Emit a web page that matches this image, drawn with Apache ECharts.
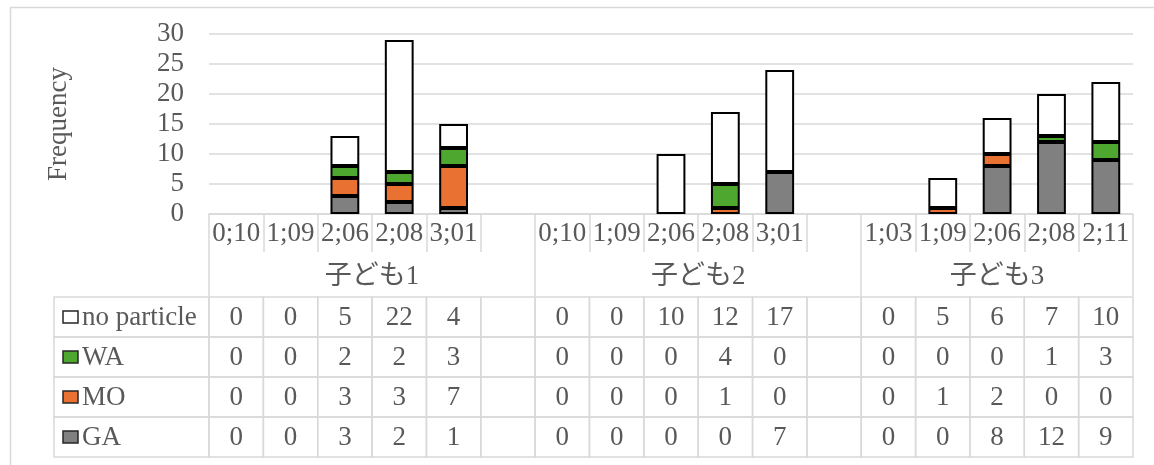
<!DOCTYPE html>
<html>
<head>
<meta charset="utf-8">
<script src="https://cdn.jsdelivr.net/npm/echarts@6/dist/echarts.min.js"></script>
<style>
  html, body { margin: 0; padding: 0; background: #ffffff; }
  #chart { width: 1154px; height: 465px; }
</style>
</head>
<body>
<div id="chart"></div>
<script>
// Ages at each recording session, one list per child
const ages1 = ['0;10', '1;09', '2;06', '2;08', '3;01'];
const ages2 = ['0;10', '1;09', '2;06', '2;08', '3;01'];
const ages3 = ['1;03', '1;09', '2;06', '2;08', '2;11'];
const childNames = ['子ども1', '子ども2', '子ども3'];

// Counts per particle type, one inner list per child
const noParticle = [[0, 0, 5, 22, 4], [0, 0, 10, 12, 17], [0, 5, 6, 7, 10]];
const wa = [[0, 0, 2, 2, 3], [0, 0, 0, 4, 0], [0, 0, 0, 1, 3]];
const mo = [[0, 0, 3, 3, 7], [0, 0, 0, 1, 0], [0, 1, 2, 0, 0]];
const ga = [[0, 0, 3, 2, 1], [0, 0, 0, 0, 7], [0, 0, 8, 12, 9]];

// Frequency axis range
const yMin = 0, yMax = 30, yStep = 5;

// Table row order (top to bottom); bars stack in the reverse order
const rowNames = ['no particle', 'WA', 'MO', 'GA'];
const rowValues = [noParticle, wa, mo, ga];
const rowColors = ['#ffffff', '#4ea72e', '#e97132', '#808080'];

const TEXT = '#595959';
const LINE = '#d9d9d9';
const FONT = '"Liberation Serif", "Times New Roman", "Noto Sans CJK JP", serif';
const FS = 27;

// One slot per session, with an empty spacer slot between children
const ageLists = [ages1, ages2, ages3];
const categories = [];
const groupSpans = [];
ageLists.forEach((ages, g) => {
  const start = categories.length;
  ages.forEach(a => categories.push(a));
  if (g < ageLists.length - 1) categories.push('');
  groupSpans.push([start, categories.length]);
});
const groupTicks = [0].concat(groupSpans.map(s => s[1]));
const groupCenters = groupSpans.map(s => (s[0] + s[1]) / 2);

function toSlots(perChild) {
  const out = [];
  perChild.forEach((vals, g) => {
    vals.forEach(v => out.push(v));
    if (g < perChild.length - 1) out.push(null);
  });
  return out;
}
const rowSlots = rowValues.map(toSlots);

// Stacked bars: GA at the bottom, then MO, WA and no particle
const barSeries = rowNames.map((name, r) => ({
  name: name,
  type: 'bar',
  stack: 'total',
  xAxisIndex: 0,
  yAxisIndex: 0,
  barCategoryGap: '47%',
  data: rowSlots[r].map(v => (v ? v : '-')),
  itemStyle: { color: rowColors[r], borderColor: '#000000', borderWidth: 2 },
  emphasis: { disabled: true },
  z: 3
})).reverse();

// Data table cells under the axis
const cellData = [];
rowNames.forEach((_, r) => categories.forEach((_, s) => cellData.push([s, r])));

const cellSeries = {
  type: 'custom',
  coordinateSystem: 'cartesian2d',
  xAxisIndex: 2,
  yAxisIndex: 1,
  silent: true,
  data: cellData,
  renderItem: (params, api) => {
    const s = api.value(0), r = api.value(1);
    const p = api.coord([s, r]);
    const sz = api.size([1, 1]);
    const v = rowSlots[r][s];
    return {
      type: 'group',
      children: [
        { type: 'rect', shape: { x: p[0] - sz[0] / 2, y: p[1] - sz[1] / 2, width: sz[0], height: sz[1] },
          style: { fill: 'none', stroke: LINE, lineWidth: 1.5 } },
        { type: 'text', x: p[0], y: p[1] + 1,
          style: { text: v === null ? '' : String(v), align: 'center', verticalAlign: 'middle',
                   fontSize: FS, fontFamily: FONT, fill: TEXT } }
      ]
    };
  }
};

// Legend keys in the first table column
const LEGEND_W = 155;
const legendSeries = {
  type: 'custom',
  coordinateSystem: 'cartesian2d',
  xAxisIndex: 2,
  yAxisIndex: 1,
  silent: true,
  data: rowNames.map((_, r) => [0, r]),
  renderItem: (params, api) => {
    const r = api.value(1);
    const p = api.coord([0, r]);
    const sz = api.size([1, 1]);
    const right = params.coordSys.x;
    const left = right - LEGEND_W;
    const top = p[1] - sz[1] / 2;
    return {
      type: 'group',
      children: [
        { type: 'rect', shape: { x: left, y: top, width: LEGEND_W, height: sz[1] },
          style: { fill: 'none', stroke: LINE, lineWidth: 1.5 } },
        { type: 'rect', shape: { x: left + 9, y: p[1] - 6, width: 15, height: 12 },
          style: { fill: rowColors[r], stroke: '#262626', lineWidth: 1.5 } },
        { type: 'text', x: left + 28, y: p[1] + 1,
          style: { text: rowNames[r], align: 'left', verticalAlign: 'middle',
                   fontSize: FS, fontFamily: FONT, fill: TEXT } }
      ]
    };
  }
};

const chart = echarts.init(document.getElementById('chart'));
chart.setOption({
  animation: false,
  backgroundColor: '#ffffff',
  graphic: [{
    type: 'rect', left: 8, top: 5, silent: true,
    shape: { width: 1200, height: 500 },
    style: { fill: 'none', stroke: LINE, lineWidth: 1.5 }
  }],
  grid: [
    { left: 209, right: 21, top: 34, bottom: 251, containLabel: false },
    { left: 209, right: 21, top: 297, height: 160, containLabel: false }
  ],
  xAxis: [
    {
      type: 'category', gridIndex: 0, data: categories, position: 'bottom',
      axisLine: { show: true, lineStyle: { color: LINE, width: 1.5 } },
      axisTick: { show: true, interval: 0, length: 38, lineStyle: { color: LINE, width: 1.5 } },
      axisLabel: { interval: 0, margin: 6, color: TEXT, fontSize: FS, fontFamily: FONT },
      splitLine: { show: false }
    },
    {
      type: 'value', gridIndex: 0, min: 0, max: categories.length, position: 'bottom', offset: 38,
      axisLine: { show: false },
      axisTick: { show: true, customValues: groupTicks, length: 44, lineStyle: { color: LINE, width: 1.5 } },
      axisLabel: {
        customValues: groupCenters, margin: 11, color: TEXT, fontSize: FS, fontFamily: FONT,
        formatter: v => childNames[groupCenters.indexOf(v)] || ''
      },
      splitLine: { show: false }
    },
    {
      type: 'category', gridIndex: 1, data: categories, show: false
    }
  ],
  yAxis: [
    {
      type: 'value', gridIndex: 0, min: yMin, max: yMax, interval: yStep,
      name: 'Frequency', nameLocation: 'middle', nameGap: 137,
      nameTextStyle: { color: TEXT, fontSize: FS, fontFamily: FONT },
      axisLine: { show: false },
      axisTick: { show: false },
      axisLabel: { margin: 25, color: TEXT, fontSize: FS, fontFamily: FONT },
      splitLine: { show: true, lineStyle: { color: LINE, width: 1.5 } }
    },
    {
      type: 'category', gridIndex: 1, data: rowNames, inverse: true, show: false
    }
  ],
  series: barSeries.concat([cellSeries, legendSeries])
});
</script>
</body>
</html>
